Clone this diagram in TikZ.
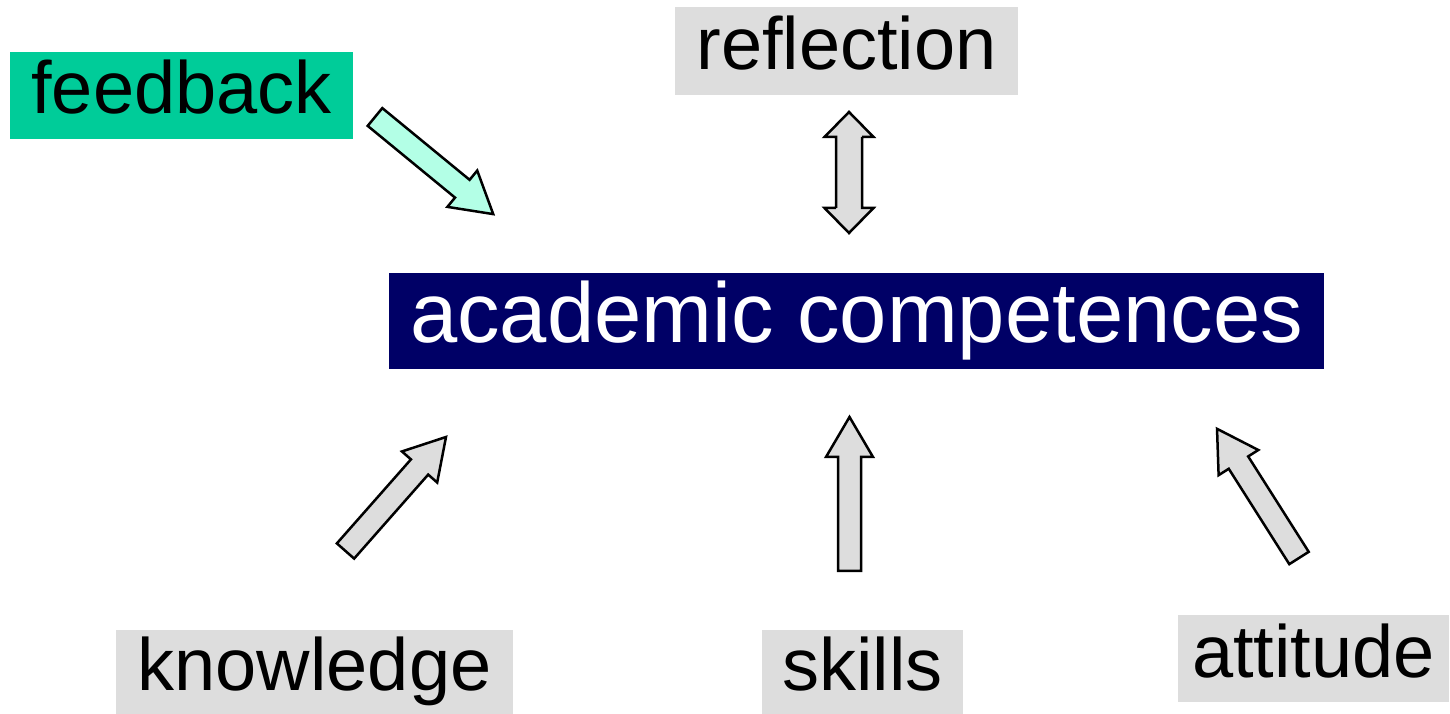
\documentclass[tikz,border=0pt]{standalone}
\usepackage{fontspec}
\setmainfont{Liberation Sans}
\definecolor{boxgray}{HTML}{DDDDDD}
\definecolor{feedgreen}{HTML}{00CC99}
\definecolor{feedaqua}{HTML}{B3FFE6}
\definecolor{navy}{HTML}{000066}
\tikzset{
  labelbox/.style={fill=boxgray,inner sep=0pt,text height=55.5bp,text depth=18.5bp,
    font=\fontsize{74bp}{80bp}\selectfont},
  blockarrow/.style={draw=black,line width=2.5bp,line join=miter,fill=boxgray},
}
% block arrow: tail coordinate, angle, length, style
\newcommand{\blockarrow}[4]{%
  \begin{scope}[shift={(#1)},rotate=#2]
    \draw[blockarrow,#4] (0bp,-11.5bp) -- (#3bp-40bp,-11.5bp) -- (#3bp-40bp,-23.5bp)
      -- (#3bp,0bp) -- (#3bp-40bp,23.5bp) -- (#3bp-40bp,11.5bp) -- (0bp,11.5bp) -- cycle;
  \end{scope}}
\begin{document}
\begin{tikzpicture}[>=latex,line join=bevel,]
\useasboundingbox (0bp,0bp) rectangle (1450bp,714bp);
%%
\node (feedback) at (181.5bp,618.5bp) [labelbox,fill=feedgreen,minimum width=343bp,minimum height=87bp] {feedback};
  \node (reflection) at (846.5bp,663bp) [labelbox,minimum width=343bp,minimum height=88bp] {reflection};
  \node (academic) at (856.5bp,393bp) [fill=navy,text=white,inner sep=0pt,text height=63.75bp,text depth=21.25bp,
    minimum width=935bp,minimum height=96bp,font=\fontsize{85bp}{90bp}\selectfont] {academic competences};
  \node (knowledge) at (314.5bp,42bp) [labelbox,minimum width=397bp,minimum height=84bp] {knowledge};
  \node (skills) at (862.5bp,42bp) [labelbox,minimum width=201bp,minimum height=84bp] {skills};
  \node (attitude) at (1313.5bp,55.5bp) [labelbox,minimum width=271bp,minimum height=87bp] {attitude};
%
\coordinate (feedback_tail) at (375bp,597bp);
  \coordinate (knowledge_tail) at (345.5bp,163bp);
  \coordinate (skills_tail) at (849.5bp,143bp);
  \coordinate (attitude_tail) at (1299bp,156bp);
  \blockarrow{feedback_tail}{-39.4}{153}{fill=feedaqua}
  \blockarrow{knowledge_tail}{48.6}{152}{}
  \blockarrow{skills_tail}{90}{154}{}
  \blockarrow{attitude_tail}{122.4}{153}{}
%
\coordinate (reflection_low) at (849bp,481bp);
  \coordinate (reflection_high) at (849bp,602bp);
  \draw [blockarrow] (reflection_low) -- ++(24.5bp,25bp) -- ++(-11.5bp,0bp) |- ([xshift=13bp,yshift=-25bp]reflection_high)
    -- ++(11.5bp,0bp) -- (reflection_high) -- ++(-24.5bp,-25bp) -- ++(11.5bp,0bp) |- ([xshift=-13bp,yshift=25bp]reflection_low)
    -- ++(-11.5bp,0bp) -- cycle;
%
\end{tikzpicture}
\end{document}
